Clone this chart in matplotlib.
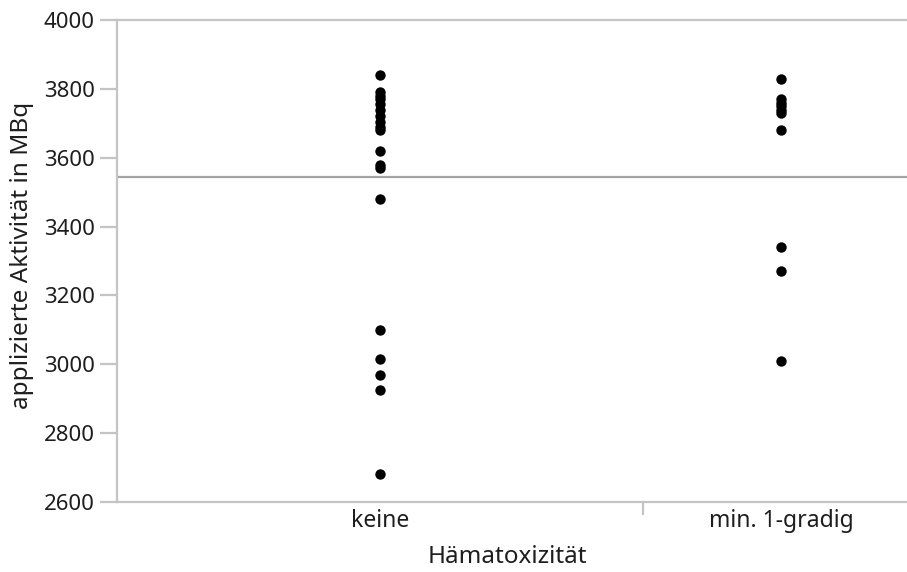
import numpy as np
import matplotlib
matplotlib.use("Agg")
import matplotlib.pyplot as plt

plt.rcParams['font.family'] = ['Noto Sans', 'DejaVu Sans']

# applied activity per patient, grouped by haematotoxicity grade
groups = ['keine', 'min. 1-gradig']
keine = [3840, 3790, 3780, 3770, 3755, 3740, 3720, 3705, 3690, 3680,
         3620, 3580, 3570, 3480, 3100, 3015, 2970, 2925, 2680]
min_1_gradig = [3830, 3770, 3760, 3750, 3740, 3730, 3680, 3340, 3270, 3010]
grand_mean = 3545

yticks = [2600, 2800, 3000, 3200, 3400, 3600, 3800, 4000]

W, H = 907, 572
fig = plt.figure(figsize=(W / 100, H / 100), dpi=100)
ax = fig.add_axes([117 / W, (H - 502) / H, (W - 117) / W, 482 / H])

# group widths proportional to group size (one unit per observation)
n1, n2 = len(keine), len(min_1_gradig)
centers = [n1 / 2, n1 + n2 / 2]
for c, vals in zip(centers, [keine, min_1_gradig]):
    ax.scatter(np.full(len(vals), c), vals, s=56, color='black', zorder=3,
               linewidths=0)

ax.axhline(grand_mean, color='#a4a4a4', lw=1.6, zorder=2)

ax.set_ylim(2600, 4000)
ax.set_xlim(0, n1 * (W - 117) / 526)

grey = '#c4c4c4'
txt = '#1e1e1e'
fs = 16
ax.spines['right'].set_visible(False)
for side in ['left', 'top', 'bottom']:
    ax.spines[side].set_color(grey)
    ax.spines[side].set_linewidth(1.6)

ax.set_yticks(yticks)
ax.tick_params(axis='y', length=12, width=1.6, color=grey, labelsize=fs,
               labelcolor=txt, pad=4)
ax.set_xticks(centers)
ax.set_xticklabels(groups)
ax.set_xticks([n1], minor=True)
ax.tick_params(axis='x', which='major', length=0, labelsize=16.5,
               labelcolor=txt, pad=5)
ax.tick_params(axis='x', which='minor', length=9, width=1.6, color=grey,
               direction='out')

ax.set_xlabel('Hämatoxizität', fontsize=17.5, color=txt, va='center')
ax.set_ylabel('applizierte Aktivität in MBq', fontsize=17.5, color=txt,
              va='center')
ax.xaxis.set_label_coords((507 - 117) / (W - 117), -(557 - 502) / 482)
ax.yaxis.set_label_coords(-(117 - 22) / (W - 117), (502 - 255) / 482)

fig.savefig('out.png', dpi=100)
